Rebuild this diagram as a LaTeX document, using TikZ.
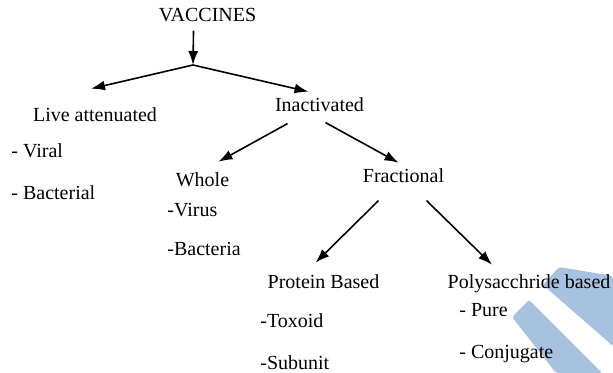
\documentclass[tikz,border=0pt]{standalone}
\usepackage{fontspec}
\setmainfont{Liberation Serif}
\usetikzlibrary{arrows.meta,calc}
\definecolor{stripe}{RGB}{168,193,223}

\begin{document}
\begin{tikzpicture}[x=0.5pt,y=-0.5pt,
	lbl/.style={inner sep=0pt,anchor=base,font=\fontsize{10}{12}\selectfont},
	item/.style={lbl,anchor=base west},
	arr/.style={-{Latex[length=7pt,width=5pt]},line width=0.8pt}]
	\useasboundingbox (0,0) rectangle (613,373);
	%% stripes
	\fill[stripe,rounded corners=1pt] (543,285) -- (559,267) -- (613,276) -- (613,346) -- cycle;
	\fill[stripe,rounded corners=1pt] (512,317) -- (529,300) -- (602,373) -- (556,373) -- cycle;
	%% fig a
	\node[lbl] (vacc) at (207.5,22) {VACCINES};
	\coordinate (split) at (193,65);
	\node[lbl] (live) at (95,122) {Live attenuated};
	\node[lbl] (inact) at (319.5,112) {Inactivated};
	\node[item] (viral) at (11,158) {- Viral};
	\node[item] (bact) at (11,199) {- Bacterial};
	%% fig b
	\node[lbl] (whole) at (202.5,187) {Whole};
	\node[item] (virus) at (167,216) {-Virus};
	\node[item] (bacteria) at (167,255) {-Bacteria};
	\node[lbl] (frac) at (403.5,183) {Fractional};
	%% fig c
	\node[lbl] (prot) at (323.5,288) {Protein Based};
	\node[item] (toxoid) at (260,327) {-Toxoid};
	\node[item] (subunit) at (260,369) {-Subunit};
	\node[lbl] (poly) at (529,288) {Polysacchride based};
	\node[item] (pure) at (459,316) {- Pure};
	\node[item] (conj) at (459,358) {- Conjugate};
	% arrows
	\draw[arr] ($(vacc.south)+(-14,8)$) -- (split);
	\draw[arr] (split) -- ($(live.north)+(-4,-19)$);
	\draw[arr] (split) -- ($(inact.north)+(-11,-6)$);
	\draw[arr] ($(inact.south)+(-32,11)$) -- ($(whole.north)+(16,-11)$);
	\draw[arr] ($(inact.south)+(6,10)$) -- ($(frac.north)+(-5,-6)$);
	\draw[arr] ($(frac.south)+(-25,17)$) -- ($(prot.north)+(-8,-11)$);
	\draw[arr] ($(frac.south)+(23,17)$) -- ($(poly.north)+(-37,-9)$);
\end{tikzpicture}
\end{document}
